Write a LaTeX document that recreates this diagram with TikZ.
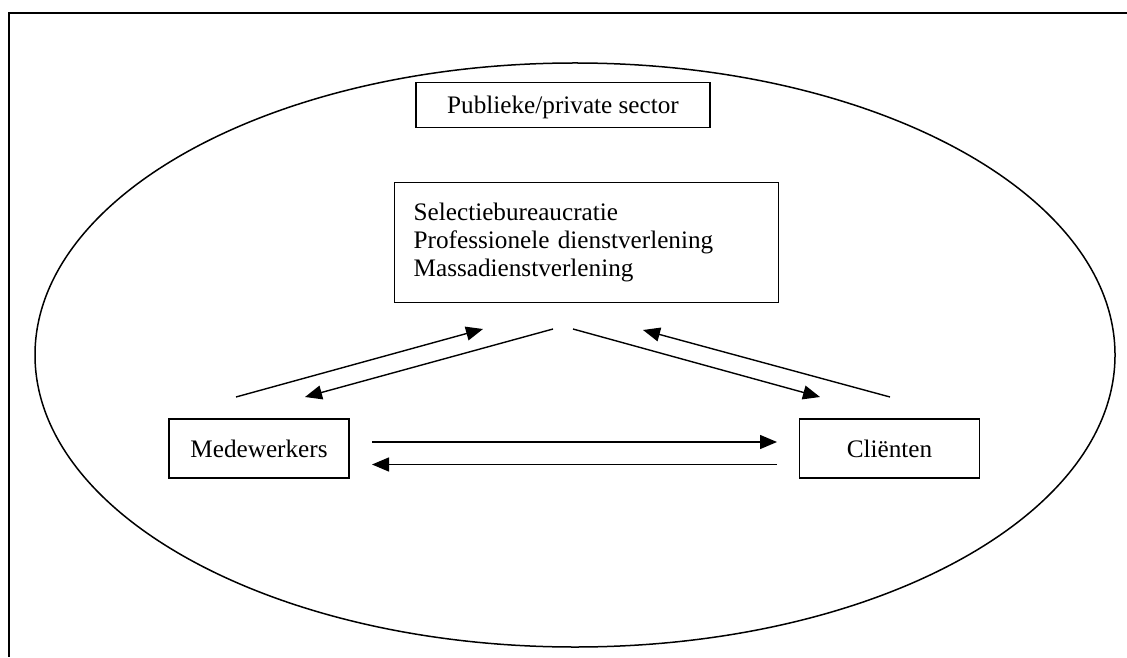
\documentclass[tikz,border=0pt]{standalone}
\usepackage{fontspec}
\setmainfont{Liberation Serif}
\usetikzlibrary{arrows.meta}

\tikzset{
  box/.style={draw,line width=0.7pt,inner sep=0pt,minimum width=90pt,minimum height=29.5pt},
  flow/.style={line width=0.7pt,-{Triangle[length=8.5pt,width=7pt]}}
}

\begin{document}
\begin{tikzpicture}[x=0.5pt,y=-0.5pt,font=\fontsize{12.6}{14}\selectfont]
  \useasboundingbox (0,0) rectangle (1127,657);
  \draw[line width=1pt] (1127,13) -- (9,13) -- (9,657);
  \draw[line width=0.75pt] (575,355) ellipse [x radius=270pt,y radius=146pt];

  \node[box,minimum width=147pt,minimum height=22.5pt,text depth=0pt] (sector) at (563,105) {Publieke/private sector};
  \node[box,anchor=north west,align=left,text width=173pt,inner xsep=9.5pt,minimum height=60pt] (types) at (394,182)
    {\rule{0pt}{3pt}Selectiebureaucratie\\Professionele dienstverlening\\Massadienstverlening};
  \node[box] (staff) at (259,448.5) {Medewerkers};
  \node[box] (clients) at (889.5,448.5) {Cliënten};

  % staff <-> types
  \coordinate (st-out) at (236,397);
  \coordinate (st-in)  at (483,329);
  \coordinate (ts-out) at (553,329);
  \coordinate (ts-in)  at (305,397);
  % types <-> clients
  \coordinate (tc-out) at (573,329);
  \coordinate (tc-in)  at (820,397);
  \coordinate (ct-out) at (890,397);
  \coordinate (ct-in)  at (643,330);
  % staff <-> clients
  \coordinate (sc-out) at (372,442);
  \coordinate (sc-in)  at (777,442);
  \coordinate (cs-out) at (777,464.5);
  \coordinate (cs-in)  at (372,464.5);
  \foreach \a in {st,ts,tc,ct,sc,cs}
    \draw[flow] (\a-out) -- (\a-in);
\end{tikzpicture}
\end{document}
